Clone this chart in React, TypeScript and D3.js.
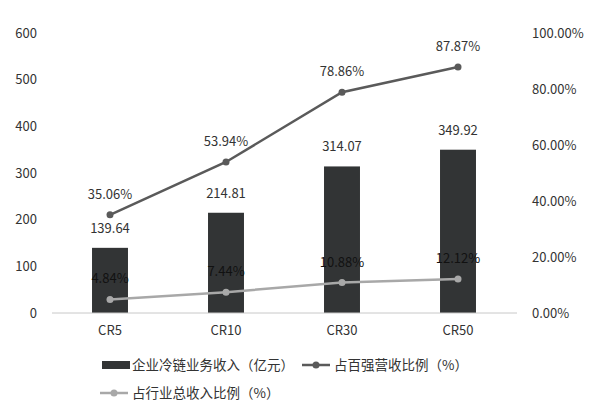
import * as d3 from "d3";
import { useEffect, useRef } from "react";

// 数据
const categories = ["CR5", "CR10", "CR30", "CR50"];
const revenue = [139.64, 214.81, 314.07, 349.92];
const top100Share = [35.06, 53.94, 78.86, 87.87];
const industryShare = [4.84, 7.44, 10.88, 12.12];
const leftTicks = [0, 100, 200, 300, 400, 500, 600];
const rightTicks = [0, 20, 40, 60, 80, 100];

const FONT = "'Noto Sans CJK SC', 'Noto Sans', sans-serif";

export default function App() {
  const svgRef = useRef<SVGSVGElement>(null);

  useEffect(() => {
    if (!svgRef.current) return;
    const svg = d3.select(svgRef.current);
    svg.selectAll("*").remove();

    const width = 600;
    const height = 402;
    const margin = { top: 33, right: 84, bottom: 89, left: 52 };

    svg.attr("width", width).attr("height", height);

    const x = d3
      .scaleBand<string>()
      .domain(categories)
      .range([margin.left, width - margin.right])
      .paddingInner(0.69)
      .paddingOuter(0.345);
    const yLeft = d3
      .scaleLinear()
      .domain([0, 600])
      .range([height - margin.bottom, margin.top]);
    const yRight = d3
      .scaleLinear()
      .domain([0, 100])
      .range([height - margin.bottom, margin.top]);
    const cx = (c: string) => (x(c) ?? 0) + x.bandwidth() / 2;

    // 左轴刻度
    svg
      .append("g")
      .selectAll("text")
      .data(leftTicks)
      .enter()
      .append("text")
      .attr("x", 37)
      .attr("y", (d) => yLeft(d))
      .attr("dy", "0.35em")
      .attr("text-anchor", "end")
      .style("font-family", FONT)
      .style("font-size", "13px")
      .style("fill", "#333")
      .text((d) => d);

    // 右轴刻度
    svg
      .append("g")
      .selectAll("text")
      .data(rightTicks)
      .enter()
      .append("text")
      .attr("x", 532)
      .attr("y", (d) => yRight(d))
      .attr("dy", "0.35em")
      .style("font-family", FONT)
      .style("font-size", "13px")
      .style("fill", "#333")
      .text((d) => d.toFixed(2) + "%");

    // 柱子
    svg
      .append("g")
      .selectAll("rect")
      .data(revenue)
      .enter()
      .append("rect")
      .attr("x", (d, i) => x(categories[i]) ?? 0)
      .attr("y", (d) => yLeft(d))
      .attr("width", x.bandwidth())
      .attr("height", (d) => yLeft(0) - yLeft(d))
      .style("fill", "#323435");

    // 横轴线
    svg
      .append("line")
      .attr("x1", margin.left)
      .attr("x2", width - margin.right + 1)
      .attr("y1", yLeft(0))
      .attr("y2", yLeft(0))
      .style("stroke", "#c8c8c8")
      .style("stroke-width", "1px");

    // 横轴标签
    svg
      .append("g")
      .selectAll("text")
      .data(categories)
      .enter()
      .append("text")
      .attr("x", (d) => cx(d))
      .attr("y", 335)
      .attr("text-anchor", "middle")
      .style("font-family", FONT)
      .style("font-size", "13px")
      .style("fill", "#333")
      .text((d) => d);

    // 柱子数值
    svg
      .append("g")
      .selectAll("text")
      .data(revenue)
      .enter()
      .append("text")
      .attr("x", (d, i) => cx(categories[i]))
      .attr("y", (d) => yLeft(d) - 15)
      .attr("text-anchor", "middle")
      .style("font-family", FONT)
      .style("font-size", "13px")
      .style("fill", "#333")
      .text((d) => d.toFixed(2));

    // 折线
    const drawLine = (vals: number[], color: string, labelColor: string) => {
      const line = d3
        .line<number>()
        .x((d, i) => cx(categories[i]))
        .y((d) => yRight(d));
      svg
        .append("path")
        .datum(vals)
        .attr("d", line)
        .style("fill", "none")
        .style("stroke", color)
        .style("stroke-width", "2.5px");
      svg
        .append("g")
        .selectAll("circle")
        .data(vals)
        .enter()
        .append("circle")
        .attr("cx", (d, i) => cx(categories[i]))
        .attr("cy", (d) => yRight(d))
        .attr("r", 3.5)
        .style("fill", color);
      svg
        .append("g")
        .selectAll("text")
        .data(vals)
        .enter()
        .append("text")
        .attr("x", (d, i) => cx(categories[i]))
        .attr("y", (d) => yRight(d) - 16)
        .attr("text-anchor", "middle")
        .style("font-family", FONT)
        .style("font-size", "13px")
        .style("fill", labelColor)
        .text((d) => d.toFixed(2) + "%");
    };
    drawLine(top100Share, "#5a5a5a", "#333");
    drawLine(industryShare, "#a8a8a8", "#111");

    // 图例
    const legend = svg
      .append("g")
      .style("font-family", FONT)
      .style("font-size", "13.5px")
      .style("fill", "#333");
    legend
      .append("rect")
      .attr("x", 102)
      .attr("y", 361)
      .attr("width", 28)
      .attr("height", 8)
      .style("fill", "#323435");
    legend
      .append("text")
      .attr("x", 132)
      .attr("y", 370)
      .text("企业冷链业务收入（亿元）");

    const lineLegend = (lx: number, ly: number, color: string, label: string) => {
      legend
        .append("line")
        .attr("x1", lx)
        .attr("x2", lx + 28)
        .attr("y1", ly)
        .attr("y2", ly)
        .style("stroke", color)
        .style("stroke-width", "2.5px");
      legend
        .append("circle")
        .attr("cx", lx + 14)
        .attr("cy", ly)
        .attr("r", 3.5)
        .style("fill", color);
      legend
        .append("text")
        .attr("x", lx + 32)
        .attr("y", ly + 5)
        .text(label);
    };
    lineLegend(302, 365, "#5a5a5a", "占百强营收比例（%）");
    lineLegend(100, 393, "#a8a8a8", "占行业总收入比例（%）");
  }, []);

  return (
    <svg
      ref={svgRef}
      style={{ position: "absolute", left: 0, top: 0, background: "#fff" }}
    ></svg>
  );
}
